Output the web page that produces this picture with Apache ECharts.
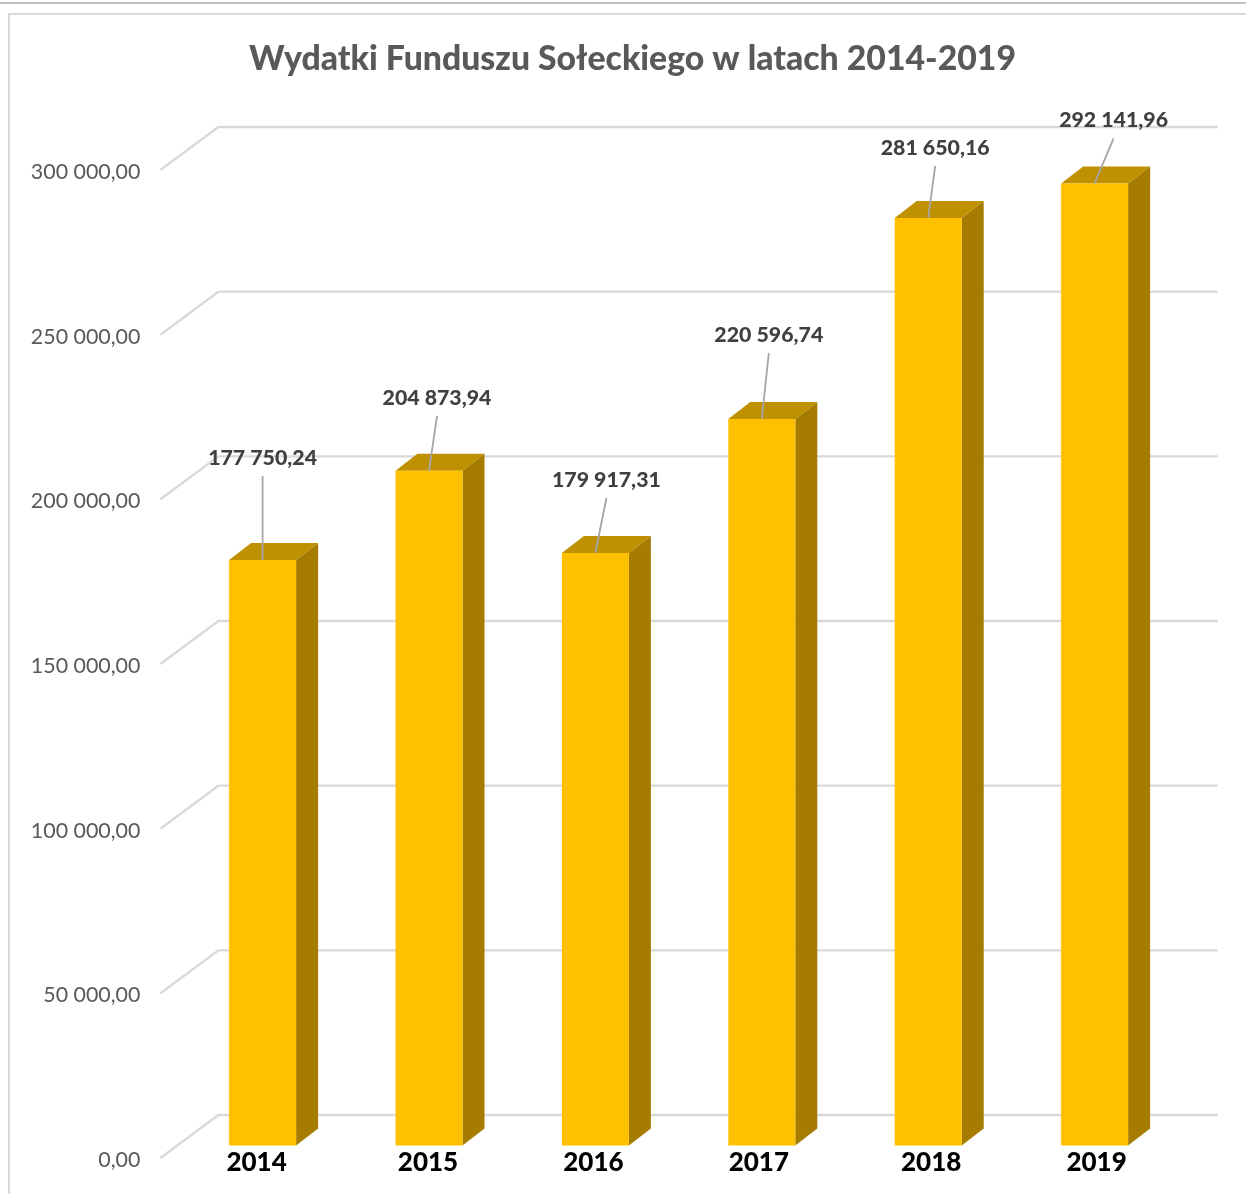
<!DOCTYPE html>
<html>
<head>
<meta charset="utf-8">
<title>Wydatki Funduszu Sołeckiego</title>
<script src="https://cdn.jsdelivr.net/npm/echarts@6/dist/echarts.min.js"></script>
<style>
  html, body { margin: 0; padding: 0; background: #fff; }
  #chart { width: 1246px; height: 1194px; }
</style>
</head>
<body>
<div id="chart"></div>
<script>
  var years = ['2014', '2015', '2016', '2017', '2018', '2019'];
  var values = [177750.24, 204873.94, 179917.31, 220596.74, 281650.16, 292141.96];
  var yTicks = [0, 50000, 100000, 150000, 200000, 250000, 300000];

  // value labels were dragged by hand in the original, so each has its own offset from the bar top
  var labelDx = [0, 8, 11, 7, 7, 19];
  var labelDy = [-84, -55, -55, -66, -52, -45];
  var yearDx = [-6, -1, -2, -3, 3, 2];

  var FONT = 'Lato';
  var BAR_W = 67;
  var DEPTH_X = 22;
  var DEPTH_Y = 17;
  var BAR_SHIFT = 12.5; // bars stand inside the floor, above the front edge
  var WALL_X = 58;
  var WALL_Y = 43;

  function fmt(v) {
    var parts = v.toFixed(2).split('.');
    return parts[0].replace(/\B(?=(\d{3})+$)/g, ' ') + ',' + parts[1];
  }

  function renderGrid(params, api) {
    var y = api.coord([0, api.value(1)])[1];
    var cs = params.coordSys;
    return {
      type: 'polyline',
      silent: true,
      shape: {points: [[cs.x - 19, y], [cs.x - 19 + WALL_X, y - WALL_Y], [cs.x + cs.width + 40, y - WALL_Y]]},
      style: {fill: null, stroke: '#d9d9d9', lineWidth: 2.4}
    };
  }

  function renderBar(params, api) {
    var top = api.coord([api.value(0), api.value(1)]);
    var base = api.coord([api.value(0), 0]);
    var l = top[0] - BAR_W / 2, r = top[0] + BAR_W / 2;
    var t = top[1] - BAR_SHIFT, b = base[1] - BAR_SHIFT;
    return {
      type: 'group',
      children: [
        {type: 'polygon', shape: {points: [[r, b], [r + DEPTH_X, b - DEPTH_Y], [r + DEPTH_X, t - DEPTH_Y], [r, t]]},
          style: {fill: '#a67c00'}},
        {type: 'polygon', shape: {points: [[l, t], [l + DEPTH_X, t - DEPTH_Y], [r + DEPTH_X, t - DEPTH_Y], [r, t]]},
          style: {fill: '#bf9000'}},
        {type: 'rect', shape: {x: l, y: t, width: BAR_W, height: b - t}, style: {fill: '#ffc000'}}
      ]
    };
  }

  function renderLabel(params, api) {
    var i = params.dataIndex;
    var top = api.coord([api.value(0), api.value(1)]);
    var x = top[0], y = top[1] - BAR_SHIFT;
    var lx = x + labelDx[i], ly = y + labelDy[i];
    var base = api.coord([api.value(0), 0]);
    return {
      type: 'group',
      children: [
        {type: 'line', shape: {x1: lx, y1: ly, x2: x, y2: y}, style: {stroke: '#a6a6a6', lineWidth: 1.8}},
        {type: 'text', x: lx, y: ly - 18,
          style: {text: fmt(api.value(1)), fill: '#404040', font: '900 21.3px ' + FONT, align: 'center', verticalAlign: 'middle'}},
        {type: 'text', x: x + yearDx[i], y: base[1] + 5,
          style: {text: years[i], fill: '#000', font: '900 26px ' + FONT, align: 'center', verticalAlign: 'middle'}}
      ]
    };
  }

  var chart = echarts.init(document.getElementById('chart'));
  var option = {
    animation: false,
    backgroundColor: '#fff',
    title: {
      text: 'Wydatki Funduszu Sołeckiego w latach 2014-2019',
      left: 627.5,
      top: 37,
      textAlign: 'center',
      textStyle: {color: '#595959', fontFamily: FONT, fontWeight: 900, fontSize: 33.75}
    },
    graphic: [
      {type: 'line', shape: {x1: 0, y1: 3, x2: 1246, y2: 3}, style: {stroke: '#bfbfbf', lineWidth: 2}, silent: true},
      {type: 'polyline', shape: {points: [[9, 1194], [9, 14], [1246, 14]]}, style: {fill: null, stroke: '#d9d9d9', lineWidth: 2}, silent: true}
    ],
    grid: {left: 179.4, right: 68.2, top: 170, bottom: 36},
    xAxis: {
      type: 'category',
      data: years,
      axisLine: {show: false},
      axisTick: {show: false},
      axisLabel: {show: false}
    },
    yAxis: {
      type: 'value',
      min: 0,
      max: 300000,
      interval: 50000,
      axisLine: {show: false},
      axisTick: {show: false},
      splitLine: {show: false},
      axisLabel: {
        margin: 39,
        formatter: function (v) { return '{t|' + fmt(v) + '}'; },
        rich: {
          t: {color: '#595959', fontFamily: FONT, fontSize: 21.4, padding: [4, 0, 0, 0]}
        }
      }
    },
    series: [
      {type: 'custom', z: 1, silent: true, clip: false, renderItem: renderGrid,
        data: yTicks.map(function (v) { return [0, v]; })},
      {type: 'custom', z: 2, silent: true, clip: false, renderItem: renderBar,
        data: values.map(function (v, i) { return [i, v]; })},
      {type: 'custom', z: 3, silent: true, clip: false, renderItem: renderLabel,
        data: values.map(function (v, i) { return [i, v]; })}
    ]
  };
  chart.setOption(option);
</script>
</body>
</html>
